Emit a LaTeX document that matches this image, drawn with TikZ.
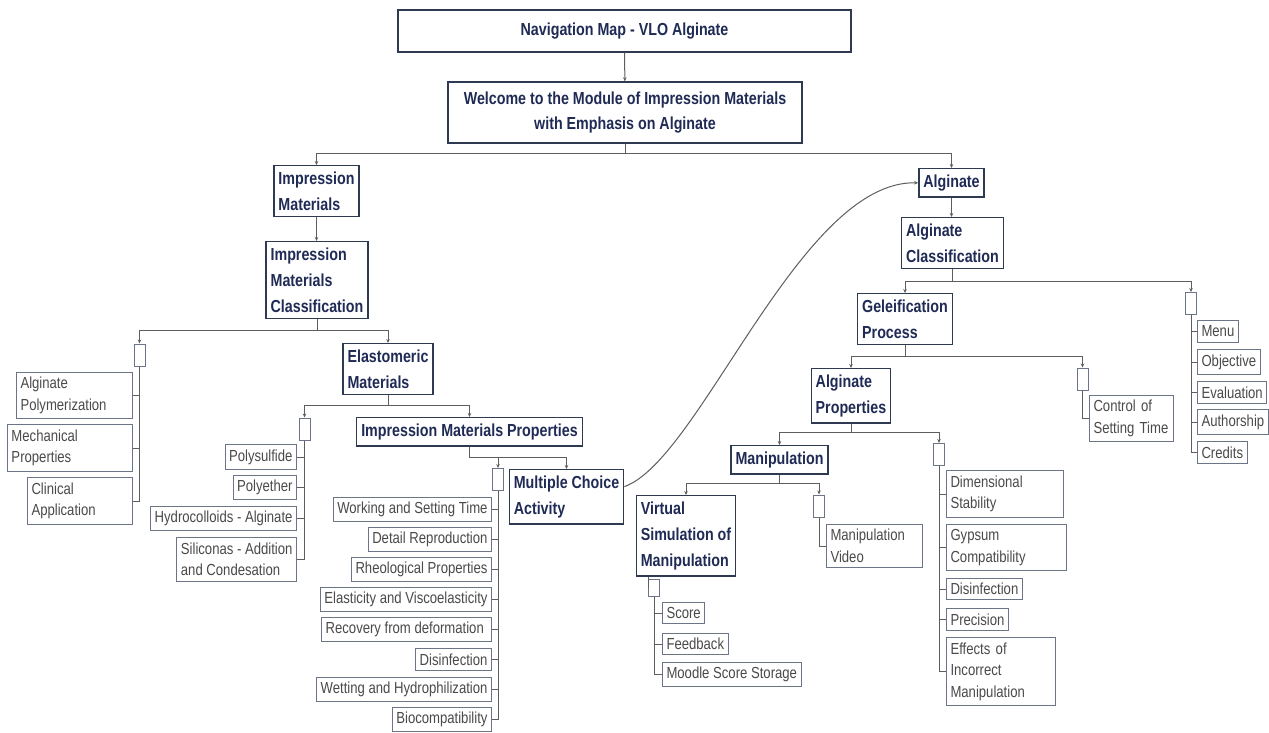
\documentclass[tikz,border=0pt]{standalone}
\usepackage{fontspec}
\setmainfont{Liberation Sans}[FakeStretch=0.82]
\usetikzlibrary{arrows.meta}

\definecolor{navytext}{HTML}{1F2B55}
\definecolor{catedge}{HTML}{2E3A52}
\definecolor{leafedge}{HTML}{6B7585}
\definecolor{leaftext}{HTML}{4A4A4A}
\definecolor{treeline}{HTML}{5E5E5E}

\tikzset{
  catbox/.style={draw=catedge, line width=1.4pt, text=navytext, font=\fontsize{17.4}{26}\selectfont\bfseries, align=left, inner xsep=4.5pt, inner ysep=6pt},
  leafbox/.style={draw=leafedge, line width=1pt, text=leaftext, font=\fontsize{16}{21.5}\selectfont, align=left, inner xsep=4pt, inner ysep=5pt},
  stub/.style={draw=leafedge, line width=1pt, minimum width=11pt, minimum height=22pt, inner sep=0pt},
  link/.style={draw=treeline, line width=1pt},
  linkarrow/.style={link, -{Stealth[length=4pt,width=3.5pt]}}
}

\begin{document}
\begin{tikzpicture}[x=1pt, y=-1pt]
  \useasboundingbox (0,0) rectangle (1269,732);
  \fill[white] (0,0) rectangle (1269,732);

  % top of the map
  \node[catbox, align=center, minimum width=453pt, minimum height=42pt] (nav) at (624.5,31) {Navigation Map - VLO Alginate};
  \node[catbox, align=center, minimum width=354pt, minimum height=61pt, font=\fontsize{17.4}{24.5}\selectfont\bfseries] (wel) at (625,112.5) {Welcome to the Module of Impression Materials\\with Emphasis on Alginate};

  % impression materials branch
  \node[catbox, anchor=north] (imt) at (316.5,165) {Impression\\Materials};
  \node[catbox, anchor=north] (imc) at (317,241) {Impression\\Materials\\Classification};
  \node[stub] (eb1) at (139.5,355) {};
  \node[catbox, anchor=north] (ela) at (388,343) {Elastomeric\\Materials};
  \node[leafbox, anchor=east, text width=108pt] (ap) at (133,395.5) {Alginate\\Polymerization};
  \node[leafbox, anchor=east, text width=117pt] (mp) at (133,448) {Mechanical\\Properties};
  \node[leafbox, anchor=east, text width=97pt]  (ca) at (133,501) {Clinical\\Application};

  \node[stub] (eb2) at (304.5,429) {};
  \node[leafbox, anchor=east] (ps) at (297,457)   {Polysulfide};
  \node[leafbox, anchor=east] (pe) at (297,487.5) {Polyether};
  \node[leafbox, anchor=east] (hc) at (297,518.5) {Hydrocolloids - Alginate};
  \node[leafbox, anchor=east] (sc) at (297,559.5) {Siliconas - Addition\\and Condesation};

  \node[catbox, anchor=north] (imp) at (469.5,417) {Impression Materials Properties};
  \node[stub] (eb3) at (498,479.5) {};
  \node[catbox, anchor=north] (mca) at (566.5,469) {Multiple Choice\\Activity};
  \node[leafbox, anchor=east] (q1) at (492,509.5) {Working and Setting Time};
  \node[leafbox, anchor=east] (q2) at (492,539.5) {Detail Reproduction};
  \node[leafbox, anchor=east] (q3) at (492,569.5) {Rheological Properties};
  \node[leafbox, anchor=east] (q4) at (492,599.5) {Elasticity and Viscoelasticity};
  \node[leafbox, anchor=east] (q5) at (492,629.5) {Recovery from deformation\ };
  \node[leafbox, anchor=east] (q6) at (492,659.5) {Disinfection};
  \node[leafbox, anchor=east] (q7) at (492,689.5) {Wetting and Hydrophilization};
  \node[leafbox, anchor=east] (q8) at (492,719.5) {Biocompatibility};

  % alginate branch
  \node[catbox, anchor=north] (alg) at (951.5,168) {Alginate};
  \node[catbox, anchor=north] (acl) at (952.5,217) {Alginate\\Classification};
  \node[catbox, anchor=north] (gel) at (905,293) {Geleification\\Process};
  \node[stub] (eb4) at (1191,303.5) {};
  \node[leafbox, anchor=west] (m1) at (1197,331.5) {Menu};
  \node[leafbox, anchor=west] (m2) at (1197,362)   {Objective};
  \node[leafbox, anchor=west] (m3) at (1197,392.5) {Evaluation};
  \node[leafbox, anchor=west] (m4) at (1197,422)   {Authorship};
  \node[leafbox, anchor=west] (m5) at (1197,452.5) {Credits};

  \node[catbox, anchor=north] (apr) at (851,368) {Alginate\\Properties};
  \node[stub] (eb5) at (1082.5,379) {};
  \node[leafbox, anchor=west, text width=76pt] (cst) at (1089,418.5) {Control of\\Setting Time};

  \node[catbox, anchor=north] (man) at (779.5,445) {Manipulation};
  \node[stub] (eb6) at (939,454.5) {};
  \node[leafbox, anchor=west, text width=109pt] (d1) at (946,494)   {Dimensional\\Stability};
  \node[leafbox, anchor=west, text width=112pt] (d2) at (946,547.5) {Gypsum\\Compatibility};
  \node[leafbox, anchor=west] (d3) at (946,589)   {Disinfection};
  \node[leafbox, anchor=west] (d4) at (946,619.5) {Precision};
  \node[leafbox, anchor=west, text width=101pt] (d5) at (946,671.5) {Effects of\\Incorrect\\Manipulation};

  \node[catbox, anchor=north] (vsm) at (686,495) {Virtual\\Simulation of\\Manipulation};
  \node[stub] (eb7) at (819,506) {};
  \node[leafbox, anchor=west, text width=88pt] (mv) at (826,546) {Manipulation\\Video};
  \node[stub, minimum height=17pt] (eb8) at (654,587.5) {};
  \node[leafbox, anchor=west] (s1) at (662,613)   {Score};
  \node[leafbox, anchor=west] (s2) at (662,644)   {Feedback};
  \node[leafbox, anchor=west] (s3) at (662,674.5) {Moodle Score Storage};

  % bus points
  \coordinate (wj) at (625,153);
  \coordinate (cj) at (317,330);
  \coordinate (ej) at (388,405);
  \coordinate (pj) at (469.5,457);
  \coordinate (aj) at (952.5,281);
  \coordinate (gj) at (905,356);
  \coordinate (rj) at (851,432);
  \coordinate (nj) at (779.5,483);

  % tree links
  \draw[linkarrow] (nav) -- (wel);
  \draw[linkarrow] (wel.south) -- (wj) -| (imt.north);
  \draw[linkarrow] (wj) -| (alg.north);
  \draw[linkarrow] (imt.south) -- (imt.south |- imc.north);
  \draw[linkarrow] (imc.south) -- (cj) -| (eb1.north);
  \draw[linkarrow] (cj) -| (ela.north);
  \draw[linkarrow] (ela.south) -- (ej) -| (eb2.north);
  \draw[linkarrow] (ej) -| (imp.north);
  \draw[linkarrow] (imp.south) -- (pj) -| (mca.north);
  \draw[linkarrow] (eb3.north |- pj) -- (eb3.north);
  \draw[linkarrow] (alg.south) -- (alg.south |- acl.north);
  \draw[linkarrow] (acl.south) -- (aj) -| (gel.north);
  \draw[linkarrow] (aj) -| (eb4.north);
  \draw[linkarrow] (gel.south) -- (gj) -| (apr.north);
  \draw[linkarrow] (gj) -| (eb5.north);
  \draw[linkarrow] (apr.south) -- (rj) -| (man.north);
  \draw[linkarrow] (rj) -| (eb6.north);
  \draw[linkarrow] (man.south) -- (nj) -| (vsm.north);
  \draw[linkarrow] (nj) -| (eb7.north);
  \draw[link] (vsm.south west) ++(13,0) |- (eb8.west);

  % leaf trunks
  \draw[link] (eb1.south) -- (eb1.south |- ca.east);
  \draw[link] (ap.east) -- (ap.east -| eb1.south);
  \draw[link] (mp.east) -- (mp.east -| eb1.south);
  \draw[link] (ca.east) -- (ca.east -| eb1.south);

  \draw[link] (eb2.south) -- (eb2.south |- sc.east);
  \draw[link] (ps.east) -- (ps.east -| eb2.south);
  \draw[link] (pe.east) -- (pe.east -| eb2.south);
  \draw[link] (hc.east) -- (hc.east -| eb2.south);
  \draw[link] (sc.east) -- (sc.east -| eb2.south);

  \draw[link] (eb3.south) -- (eb3.south |- q8.east);
  \draw[link] (q1.east) -- (q1.east -| eb3.south);
  \draw[link] (q2.east) -- (q2.east -| eb3.south);
  \draw[link] (q3.east) -- (q3.east -| eb3.south);
  \draw[link] (q4.east) -- (q4.east -| eb3.south);
  \draw[link] (q5.east) -- (q5.east -| eb3.south);
  \draw[link] (q6.east) -- (q6.east -| eb3.south);
  \draw[link] (q7.east) -- (q7.east -| eb3.south);
  \draw[link] (q8.east) -- (q8.east -| eb3.south);

  \draw[link] (eb4.south) -- (eb4.south |- m5.west);
  \draw[link] (m1.west) -- (m1.west -| eb4.south);
  \draw[link] (m2.west) -- (m2.west -| eb4.south);
  \draw[link] (m3.west) -- (m3.west -| eb4.south);
  \draw[link] (m4.west) -- (m4.west -| eb4.south);
  \draw[link] (m5.west) -- (m5.west -| eb4.south);

  \draw[link] (eb5.south) |- (cst.west);

  \draw[link] (eb6.south) -- (eb6.south |- d5.west);
  \draw[link] (d1.west) -- (d1.west -| eb6.south);
  \draw[link] (d2.west) -- (d2.west -| eb6.south);
  \draw[link] (d3.west) -- (d3.west -| eb6.south);
  \draw[link] (d4.west) -- (d4.west -| eb6.south);
  \draw[link] (d5.west) -- (d5.west -| eb6.south);

  \draw[link] (eb7.south) |- (mv.west);

  \draw[link] (eb8.south) -- (eb8.south |- s3.west);
  \draw[link] (s1.west) -- (s1.west -| eb8.south);
  \draw[link] (s2.west) -- (s2.west -| eb8.south);
  \draw[link] (s3.west) -- (s3.west -| eb8.south);

  % jump from the activity to the alginate topic
  \draw[linkarrow] (mca.10) .. controls (700,460) and (800,180) .. (alg.west);
\end{tikzpicture}
\end{document}
